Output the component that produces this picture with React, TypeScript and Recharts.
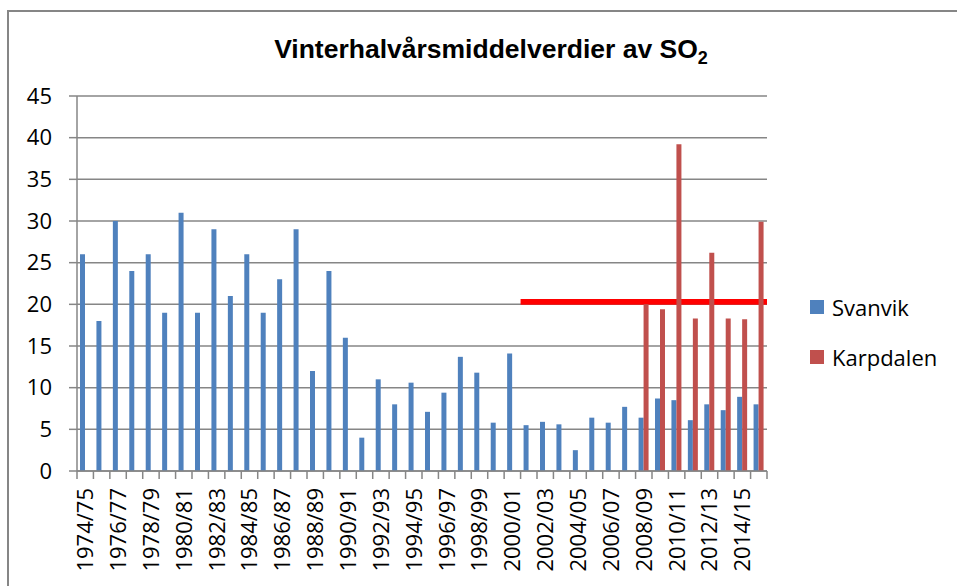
import React from 'react';
import { BarChart, Bar, XAxis, YAxis, CartesianGrid, ReferenceArea } from 'recharts';

const seasons = [
  '1974/75','1975/76','1976/77','1977/78','1978/79','1979/80','1980/81','1981/82','1982/83','1983/84',
  '1984/85','1985/86','1986/87','1987/88','1988/89','1989/90','1990/91','1991/92','1992/93','1993/94',
  '1994/95','1995/96','1996/97','1997/98','1998/99','1999/00','2000/01','2001/02','2002/03','2003/04',
  '2004/05','2005/06','2006/07','2007/08','2008/09','2009/10','2010/11','2011/12','2012/13','2013/14',
  '2014/15','2015/16',
];

const svanvik = [
  26, 18, 30, 24, 26, 19, 31, 19, 29, 21,
  26, 19, 23, 29, 12, 24, 16, 4, 11, 8,
  10.6, 7.1, 9.4, 13.7, 11.8, 5.8, 14.1, 5.5, 5.9, 5.6,
  2.5, 6.4, 5.8, 7.7, 6.4, 8.7, 8.5, 6.1, 8.0, 7.3,
  8.9, 8.0,
];

const karpdalen: (number | null)[] = [
  null, null, null, null, null, null, null, null, null, null,
  null, null, null, null, null, null, null, null, null, null,
  null, null, null, null, null, null, null, null, null, null,
  null, null, null, null, 20.0, 19.4, 39.2, 18.3, 26.2, 18.3,
  18.2, 29.9,
];

const yTicks = [0, 5, 10, 15, 20, 25, 30, 35, 40, 45];
const limitValue = 20.3;
const limitStart = '2001/02';
const limitEnd = '2015/16';

const seriesNames = ['Svanvik', 'Karpdalen'];
const seriesColors = ['#4F81BD', '#C0504D'];

const data = seasons.map((s, i) => ({ season: s, svanvik: svanvik[i], karpdalen: karpdalen[i] }));

const W = 957;
const H = 586;
const M = { top: 96, right: 190, bottom: 0, left: 0 };
const Y_AXIS_W = 77;
const X_AXIS_H = 115;
const PLOT_W = W - M.left - M.right - Y_AXIS_W;
const HALF_BAND = PLOT_W / seasons.length / 2;
const FONT = '"Open Sans", "Noto Sans", sans-serif';
const GRID = '#868686';

const XTick = (props: any) => {
  const { x, y, payload, index } = props;
  const showLabel = index % 2 === 0;
  const isLast = index === seasons.length - 1;
  return (
    <g>
      <line x1={x - HALF_BAND} x2={x - HALF_BAND} y1={y} y2={y + 8} stroke={GRID} strokeWidth={1.5} />
      {isLast && (
        <line x1={x + HALF_BAND} x2={x + HALF_BAND} y1={y} y2={y + 8} stroke={GRID} strokeWidth={1.5} />
      )}
      {showLabel && (
        <text
          x={x}
          y={y + 17}
          transform={`rotate(-90, ${x}, ${y + 17})`}
          textAnchor="end"
          dy="0.36em"
          fontSize={22}
          fontFamily={FONT}
          fill="#000"
        >
          {payload.value}
        </text>
      )}
    </g>
  );
};

export default function App() {
  return (
    <div style={{ position: 'absolute', left: 0, top: 0, width: W, height: H, overflow: 'hidden', background: '#fff' }}>
      <div
        style={{
          position: 'absolute',
          left: 7,
          top: 10,
          width: 2000,
          height: 2000,
          borderLeft: `2px solid ${GRID}`,
          borderTop: `2px solid ${GRID}`,
        }}
      />
      <div
        style={{
          position: 'absolute',
          left: 0,
          width: 982,
          top: 34,
          textAlign: 'center',
          fontFamily: '"Liberation Sans", Arial, sans-serif',
          fontWeight: 'bold',
          fontSize: 26.5,
          lineHeight: '30px',
          color: '#000',
        }}
      >
        Vinterhalvårsmiddelverdier av SO<sub style={{ fontSize: 18, verticalAlign: 'sub', lineHeight: 0 }}>2</sub>
      </div>
      <div style={{ position: 'absolute', left: 0, top: 0 }}>
        <BarChart width={W} height={H} data={data} margin={M} barGap={0} barSize={5}>
          <CartesianGrid vertical={false} stroke={GRID} strokeWidth={1.5} />
          <XAxis
            dataKey="season"
            interval={0}
            height={X_AXIS_H}
            tickLine={false}
            tickSize={0}
            tickMargin={0}
            axisLine={{ stroke: GRID, strokeWidth: 1.5 }}
            tick={<XTick />}
          />
          <YAxis
            width={Y_AXIS_W}
            domain={[0, 45]}
            ticks={yTicks}
            interval={0}
            tickSize={8}
            tickMargin={17}
            tickLine={{ stroke: GRID, strokeWidth: 1.5 }}
            axisLine={{ stroke: GRID, strokeWidth: 1.5 }}
            tick={{ fontSize: 22, fontFamily: FONT, fill: '#000' }}
          />
          <Bar dataKey="svanvik" name={seriesNames[0]} fill={seriesColors[0]} isAnimationActive={false} />
          <Bar dataKey="karpdalen" name={seriesNames[1]} fill={seriesColors[1]} isAnimationActive={false} />
          <ReferenceArea
            x1={limitStart}
            x2={limitEnd}
            y1={limitValue - 0.35}
            y2={limitValue + 0.35}
            fill="#FF0000"
            fillOpacity={1}
            stroke="none"
            ifOverflow="visible"
          />
        </BarChart>
      </div>
      <div style={{ position: 'absolute', left: 810, top: 282, fontFamily: FONT, fontSize: 22, color: '#000' }}>
        {seriesNames.map((n, i) => (
          <div key={n} style={{ display: 'flex', alignItems: 'center', height: 50 }}>
            <span style={{ display: 'inline-block', width: 14, height: 14, background: seriesColors[i], marginRight: 8 }} />
            <span>{n}</span>
          </div>
        ))}
      </div>
    </div>
  );
}
